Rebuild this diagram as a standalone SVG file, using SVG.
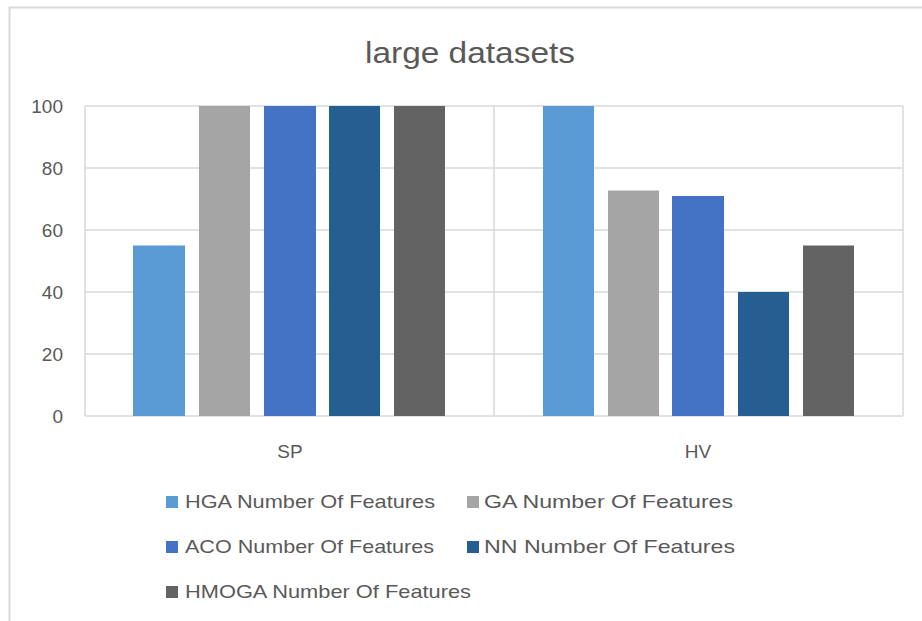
<svg xmlns="http://www.w3.org/2000/svg" width="922" height="621" viewBox="0 0 922 621">
<style>
.grid{stroke:#d9d9d9;stroke-width:1.5;fill:none}
.lbl{font-family:"Liberation Sans",Arial,sans-serif;fill:#595959}
.ax{font-size:19px;text-anchor:end}
.cat{font-size:19px;text-anchor:middle}
.leg{font-size:19px}
.title{font-size:29px;text-anchor:middle}
.hga{fill:#5B9BD5}.ga{fill:#A5A5A5}.aco{fill:#4472C4}.nn{fill:#255E91}.hm{fill:#636363}
</style>
<rect x="0" y="0" width="922" height="621" fill="#ffffff"/>
<path d="M9.5 621 V7.5 H922" stroke="#d9d9d9" stroke-width="2" fill="none"/>
<g id="title"><text class="lbl title" x="470" y="63" textLength="210" lengthAdjust="spacingAndGlyphs">large datasets</text></g>
<g id="gridlines">
<line class="grid" x1="85" y1="106" x2="903" y2="106"/>
<line class="grid" x1="85" y1="168" x2="903" y2="168"/>
<line class="grid" x1="85" y1="230" x2="903" y2="230"/>
<line class="grid" x1="85" y1="292" x2="903" y2="292"/>
<line class="grid" x1="85" y1="354" x2="903" y2="354"/>
<line class="grid" x1="85" y1="416" x2="903" y2="416"/>
<line class="grid" x1="85" y1="106" x2="85" y2="416"/>
<line class="grid" x1="494" y1="106" x2="494" y2="416"/>
<line class="grid" x1="903" y1="106" x2="903" y2="416"/>
</g>
<g id="y-axis">
<text class="lbl ax" x="63" y="113">100</text>
<text class="lbl ax" x="63" y="175">80</text>
<text class="lbl ax" x="63" y="237">60</text>
<text class="lbl ax" x="63" y="299">40</text>
<text class="lbl ax" x="63" y="361">20</text>
<text class="lbl ax" x="63" y="423">0</text>
</g>
<g id="bars-SP">
<rect class="hga" x="133" y="245.5" width="52" height="170.5"/>
<rect class="ga" x="199" y="106" width="51" height="310"/>
<rect class="aco" x="264" y="106" width="52" height="310"/>
<rect class="nn" x="329" y="106" width="51" height="310"/>
<rect class="hm" x="394" y="106" width="51" height="310"/>
</g>
<g id="bars-HV">
<rect class="hga" x="543" y="106" width="51" height="310"/>
<rect class="ga" x="608" y="190.5" width="51" height="225.5"/>
<rect class="aco" x="672" y="196" width="52" height="220"/>
<rect class="nn" x="738" y="292" width="51" height="124"/>
<rect class="hm" x="803" y="245.5" width="51" height="170.5"/>
</g>
<g id="categories">
<text class="lbl cat" x="290" y="458">SP</text>
<text class="lbl cat" x="698" y="458">HV</text>
</g>
<g id="legend">
<rect class="hga" x="166" y="496" width="12" height="12"/>
<text class="lbl leg" x="185" y="508" textLength="250" lengthAdjust="spacingAndGlyphs">HGA Number Of Features</text>
<rect class="ga" x="467" y="496" width="12" height="12"/>
<text class="lbl leg" x="484" y="508" textLength="249" lengthAdjust="spacingAndGlyphs">GA Number Of Features</text>
<rect class="aco" x="166" y="541" width="12" height="12"/>
<text class="lbl leg" x="185" y="553" textLength="249" lengthAdjust="spacingAndGlyphs">ACO Number Of Features</text>
<rect class="nn" x="467" y="541" width="12" height="12"/>
<text class="lbl leg" x="484" y="553" textLength="251" lengthAdjust="spacingAndGlyphs">NN Number Of Features</text>
<rect class="hm" x="166" y="586" width="12" height="12"/>
<text class="lbl leg" x="185" y="598" textLength="286" lengthAdjust="spacingAndGlyphs">HMOGA Number Of Features</text>
</g>
</svg>
